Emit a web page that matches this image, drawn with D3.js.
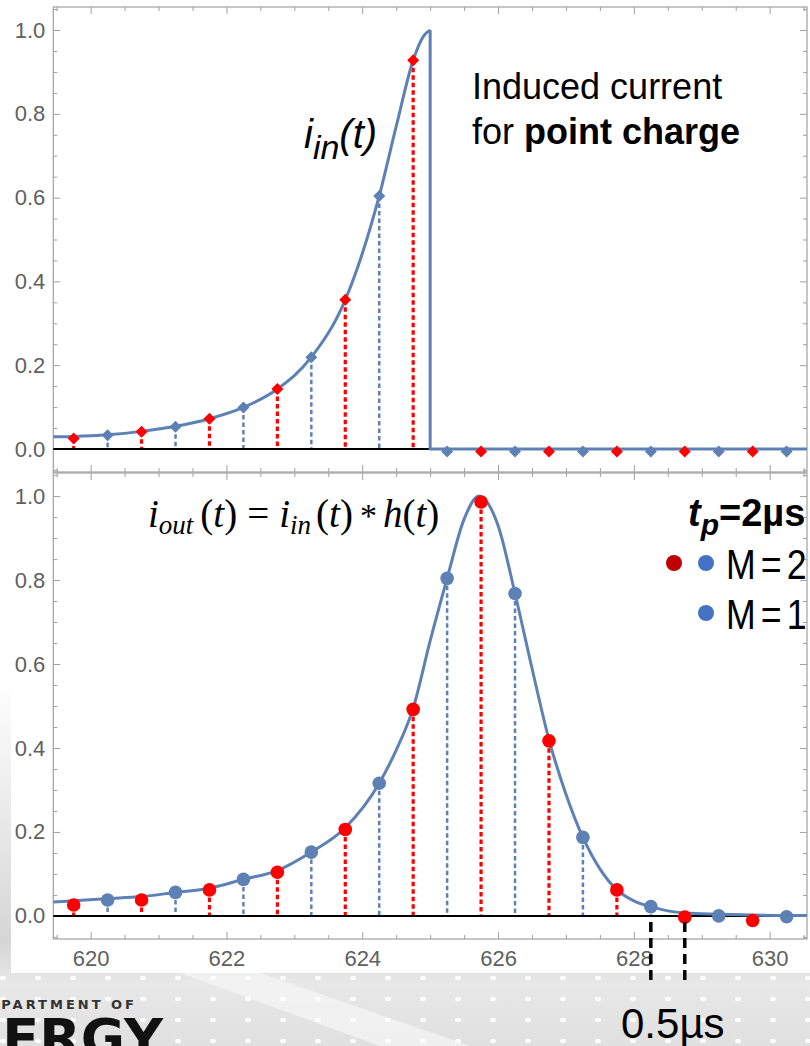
<!DOCTYPE html>
<html>
<head>
<meta charset="utf-8">
<script src="https://cdn.jsdelivr.net/npm/d3@7"></script>
<style>
  body { margin: 0; background: #fff; }
  svg { display: block; }
</style>
</head>
<body>
<div class="canvas"></div>
<script>
// sampling times (µs), two interleaved series
const redT  = [619.75, 620.75, 621.75, 622.75, 623.75, 624.75, 625.75, 626.75, 627.75, 628.75, 629.75];
const blueT = [620.25, 621.25, 622.25, 623.25, 624.25, 625.25, 626.25, 627.25, 628.25, 629.25, 630.25];

// top panel: induced current samples
const inRed  = [0.025, 0.041, 0.072, 0.143, 0.356, 0.928, -0.006, -0.006, -0.006, -0.006, -0.006];
const inBlue = [0.033, 0.053, 0.099, 0.219, 0.604, -0.006, -0.006, -0.006, -0.006, -0.006, -0.006];

// top panel: continuous i_in(t) (rising part, then drop at tEnd)
const inCurveT = [619.45, 619.75, 620.25, 620.75, 621.25, 621.75, 622.25, 622.75, 623.25, 623.75, 624.25, 624.5, 624.75, 624.9, 625.0];
const inCurveV = [0.029, 0.030, 0.034, 0.042, 0.054, 0.072, 0.099, 0.143, 0.219, 0.356, 0.604, 0.77, 0.928, 0.985, 1.0];
const tEnd = 625.0;

// bottom panel: shaped output samples
const outRed  = [0.026, 0.038, 0.062, 0.104, 0.206, 0.492, 0.986, 0.417, 0.062, -0.003, -0.011];
const outBlue = [0.038, 0.056, 0.087, 0.152, 0.316, 0.804, 0.768, 0.187, 0.022, 0.000, -0.002];

// bottom panel: continuous i_out(t)
const outCurveT = [619.45, 619.75, 620.25, 620.75, 621.25, 621.75, 622.25, 622.75, 623.25, 623.75, 624.25, 624.5, 624.75, 625.0, 625.25, 625.5, 625.72, 626.0, 626.25, 626.5, 626.75, 627.0, 627.25, 627.5, 627.75, 628.0, 628.25, 628.5, 628.75, 629.25, 629.75, 630.25, 630.55];
const outCurveV = [0.033, 0.036, 0.041, 0.046, 0.056, 0.066, 0.087, 0.108, 0.152, 0.210, 0.316, 0.395, 0.495, 0.655, 0.804, 0.945, 1.0, 0.93, 0.768, 0.59, 0.42, 0.29, 0.187, 0.112, 0.062, 0.036, 0.022, 0.012, 0.007, 0.004, 0.002, 0.001, 0.001];

// axis ticks
const xMajor = [620, 622, 624, 626, 628, 630];
const xMinor = [619.5, 620.5, 621, 621.5, 622.5, 623, 623.5, 624.5, 625, 625.5, 626.5, 627, 627.5, 628.5, 629, 629.5, 630.5];
const yMajor = [0, 0.2, 0.4, 0.6, 0.8, 1.0];
const yMinor = [-0.05, 0.05, 0.1, 0.15, 0.25, 0.3, 0.35, 0.45, 0.5, 0.55, 0.65, 0.7, 0.75, 0.85, 0.9, 0.95, 1.05];

// 0.5 µs spacing marker
const markT = [628.25, 628.75];

const W = 810, H = 1046;
const blue = '#5e81b5', red = '#ff0000';
const sans = '"Liberation Sans", Arial, sans-serif';
const serif = '"Liberation Serif", "Times New Roman", serif';

const svg = d3.select('.canvas')
    .append('svg')
    .attr('width', W)
    .attr('height', H);

// slide background
const defs = svg.append('defs');
const bg = defs.append('linearGradient').attr('id', 'bg')
    .attr('x1', 0).attr('y1', 0).attr('x2', 0).attr('y2', 1);
bg.append('stop').attr('offset', '0.65').attr('stop-color', '#ffffff');
bg.append('stop').attr('offset', '0.9').attr('stop-color', '#d6d6d6');
bg.append('stop').attr('offset', '0.94').attr('stop-color', '#e8e8e8');
bg.append('stop').attr('offset', '1').attr('stop-color', '#e0e0e0');
svg.append('rect').attr('width', W).attr('height', H).attr('fill', 'url(#bg)');

// light diagonal streak
svg.append('path')
    .attr('d', 'M180,973 L260,973 L470,1046 L380,1046 Z')
    .attr('fill', '#f6f6f6').attr('opacity', 0.7);

const dots = svg.append('g').attr('fill', '#ffffff').attr('opacity', 0.9);
d3.range(0, 24).forEach(i => {
    d3.range(0, 4).forEach(j => {
        dots.append('ellipse')
            .attr('cx', 3 + i * 35).attr('cy', 978 + j * 21)
            .attr('rx', 3).attr('ry', 2.2);
    });
});

// logo fragment
svg.append('text')
    .attr('x', 137).attr('y', 1009)
    .attr('text-anchor', 'end')
    .attr('font-family', '"DejaVu Sans", sans-serif')
    .attr('font-weight', 'bold')
    .attr('font-size', 13)
    .attr('letter-spacing', 3)
    .attr('fill', '#333')
    .text('DEPARTMENT OF');
svg.append('text')
    .attr('x', 163).attr('y', 1057)
    .attr('text-anchor', 'end')
    .attr('font-family', '"DejaVu Sans", sans-serif')
    .attr('font-weight', 'bold')
    .attr('font-size', 54)
    .attr('fill', '#111')
    .text('ENERGY');

// white chart box
svg.append('rect')
    .attr('x', 11).attr('y', 0)
    .attr('width', W - 11).attr('height', 973)
    .attr('fill', '#fff');

// scales
const x = d3.scaleLinear().domain([619.45, 630.55]).range([53.3, 807]);
const yTop = d3.scaleLinear().domain([-0.055, 1.055]).range([472, 7]);
const yBot = d3.scaleLinear().domain([-0.055, 1.055]).range([939, 473]);

const drawFrame = (y, showX) => {
    const g = svg.append('g');
    const [y0, y1] = y.range();
    const [xl, xr] = x.range();

    const sides = [
        { make: () => d3.axisLeft(y), tr: `translate(${xl},0)`, major: yMajor, minor: yMinor, fmt: d3.format('.1f'), pad: 8 },
        { make: () => d3.axisRight(y), tr: `translate(${xr},0)`, major: yMajor, minor: yMinor, fmt: null },
        { make: () => d3.axisBottom(x), tr: `translate(0,${y0})`, major: xMajor, minor: xMinor, fmt: showX ? d3.format('d') : null, pad: 11 },
        { make: () => d3.axisTop(x), tr: `translate(0,${y1})`, major: xMajor, minor: xMinor, fmt: null }
    ];

    sides.forEach(s => {
        g.append('g').attr('transform', s.tr)
            .call(s.make().tickValues(s.minor).tickSize(-4).tickFormat(''))
            .select('.domain').remove();
        g.append('g').attr('transform', s.tr)
            .call(s.make().tickValues(s.major).tickSize(-7).tickPadding(s.pad || 8)
                .tickFormat(s.fmt || ''))
            .select('.domain').remove();
    });

    g.selectAll('.tick line').attr('stroke', '#a0a0a0');
    g.selectAll('.tick text')
        .attr('font-family', sans)
        .attr('font-size', 22)
        .attr('fill', '#5f5f5f');

    g.append('rect')
        .attr('x', xl).attr('y', y1)
        .attr('width', xr - xl)
        .attr('height', y0 - y1)
        .attr('fill', 'none')
        .attr('stroke', '#a0a0a0')
        .attr('stroke-width', 1.2);
};

drawFrame(yTop, false);
drawFrame(yBot, true);

const stems = (y, ts, vs, color, width) => {
    svg.append('g').selectAll('line')
        .data(ts.map((t, i) => ({ t, v: vs[i] })))
        .enter().append('line')
        .attr('x1', d => x(d.t)).attr('x2', d => x(d.t))
        .attr('y1', d => y(d.v)).attr('y2', y(0))
        .attr('stroke', color)
        .attr('stroke-width', width)
        .attr('stroke-dasharray', '4.5,3');
};

const zeroLine = y => {
    svg.append('line')
        .attr('x1', x.range()[0]).attr('x2', x.range()[1])
        .attr('y1', y(0)).attr('y2', y(0))
        .attr('stroke', '#000').attr('stroke-width', 2);
};

// ---------- top panel ----------
stems(yTop, redT, inRed, red, 3.2);
stems(yTop, blueT, inBlue, blue, 2.5);
zeroLine(yTop);

const lineTop = d3.line().x(d => x(d[0])).y(d => yTop(d[1])).curve(d3.curveMonotoneX);
svg.append('path')
    .attr('d', lineTop(inCurveT.map((t, i) => [t, inCurveV[i]])))
    .attr('fill', 'none').attr('stroke', blue).attr('stroke-width', 3);
svg.append('path')
    .attr('d', d3.line().x(d => x(d[0])).y(d => yTop(d[1]))([[tEnd, 1], [tEnd, 0], [x.domain()[1], 0]]))
    .attr('fill', 'none').attr('stroke', blue).attr('stroke-width', 3)
    .attr('stroke-linejoin', 'round');

const diamond = d3.symbol().type(d3.symbolSquare).size(72);
const diamonds = (ts, vs, color) => {
    svg.append('g').selectAll('path')
        .data(ts.map((t, i) => ({ t, v: vs[i] })))
        .enter().append('path')
        .attr('d', diamond)
        .attr('transform', d => `translate(${x(d.t)},${yTop(d.v)}) rotate(45)`)
        .attr('fill', color);
};
diamonds(blueT, inBlue, blue);
diamonds(redT, inRed, red);

// ---------- bottom panel ----------
stems(yBot, redT, outRed, red, 3.2);
stems(yBot, blueT, outBlue, blue, 2.5);
zeroLine(yBot);

const lineBot = d3.line().x(d => x(d[0])).y(d => yBot(d[1])).curve(d3.curveMonotoneX);
svg.append('path')
    .attr('d', lineBot(outCurveT.map((t, i) => [t, outCurveV[i]])))
    .attr('fill', 'none').attr('stroke', blue).attr('stroke-width', 3);

const dotsOut = (ts, vs, color) => {
    svg.append('g').selectAll('circle')
        .data(ts.map((t, i) => ({ t, v: vs[i] })))
        .enter().append('circle')
        .attr('cx', d => x(d.t)).attr('cy', d => yBot(d.v))
        .attr('r', 6.8)
        .attr('fill', color);
};
dotsOut(blueT, outBlue, blue);
dotsOut(redT, outRed, red);

// 0.5 µs marker lines
svg.append('g').selectAll('line')
    .data(markT)
    .enter().append('line')
    .attr('x1', d => x(d)).attr('x2', d => x(d))
    .attr('y1', 922).attr('y2', 984)
    .attr('stroke', '#000')
    .attr('stroke-width', 3.5)
    .attr('stroke-dasharray', '10,6');

svg.append('text')
    .attr('x', 621).attr('y', 1038)
    .attr('font-family', sans).attr('font-size', 42)
    .attr('fill', '#000')
    .text('0.5µs');

// ---------- annotations ----------
const lab = svg.append('text')
    .attr('x', 304).attr('y', 148)
    .attr('font-family', sans).attr('font-style', 'italic')
    .attr('font-size', 40).attr('fill', '#000');
lab.append('tspan').text('i');
lab.append('tspan').attr('font-size', 34).attr('dy', 11).text('in');
lab.append('tspan').attr('dy', -11).text('(t)');

const ind = svg.append('g').attr('font-family', sans).attr('font-size', 36).attr('fill', '#000');
ind.append('text').attr('x', 472).attr('y', 99).text('Induced current');
const l2 = ind.append('text').attr('x', 472).attr('y', 144);
l2.append('tspan').text('for ');
l2.append('tspan').attr('font-weight', 'bold').text('point charge');

// convolution formula
const f = svg.append('text')
    .attr('x', 148).attr('y', 527)
    .attr('font-family', serif).attr('font-size', 39).attr('fill', '#000');
f.append('tspan').attr('font-style', 'italic').text('i');
f.append('tspan').attr('font-style', 'italic').attr('font-size', 27).attr('dy', 7).text('out');
f.append('tspan').attr('dy', -7).attr('dx', 7).text('(');
f.append('tspan').attr('font-style', 'italic').text('t');
f.append('tspan').text(')');
f.append('tspan').attr('dx', 10).text('=');
f.append('tspan').attr('dx', 10).attr('font-style', 'italic').text('i');
f.append('tspan').attr('font-style', 'italic').attr('font-size', 27).attr('dy', 7).text('in');
f.append('tspan').attr('dy', -7).attr('dx', 5).text('(');
f.append('tspan').attr('font-style', 'italic').text('t');
f.append('tspan').text(')');
f.append('tspan').attr('dx', 7).attr('font-size', 34).text('*');
f.append('tspan').attr('dx', 6).attr('font-style', 'italic').text('h');
f.append('tspan').text('(');
f.append('tspan').attr('font-style', 'italic').text('t');
f.append('tspan').text(')');

// legend
const tp = svg.append('text')
    .attr('x', 688).attr('y', 526)
    .attr('font-family', sans).attr('font-weight', 'bold')
    .attr('font-size', 38).attr('fill', '#000');
tp.append('tspan').attr('font-style', 'italic').text('t');
tp.append('tspan').attr('font-style', 'italic').attr('font-size', 30).attr('dy', 9).text('p');
tp.append('tspan').attr('dy', -9).text('=2µs');

const legendRows = [
    { y: 563, colors: ['#c00000', '#4472c4'], label: 'M=2', base: 579 },
    { y: 613, colors: ['#4472c4'], label: 'M=1', base: 629 }
];
legendRows.forEach(r => {
    r.colors.slice().reverse().forEach((c, i) => {
        svg.append('circle')
            .attr('cx', 706 - i * 32).attr('cy', r.y)
            .attr('r', 8).attr('fill', c);
    });
    svg.append('text')
        .attr('transform', `translate(726,${r.base}) scale(0.85,1)`)
        .attr('font-family', sans).attr('font-size', 42)
        .attr('letter-spacing', 6)
        .attr('fill', '#000')
        .text(r.label);
});
</script>
</body>
</html>
